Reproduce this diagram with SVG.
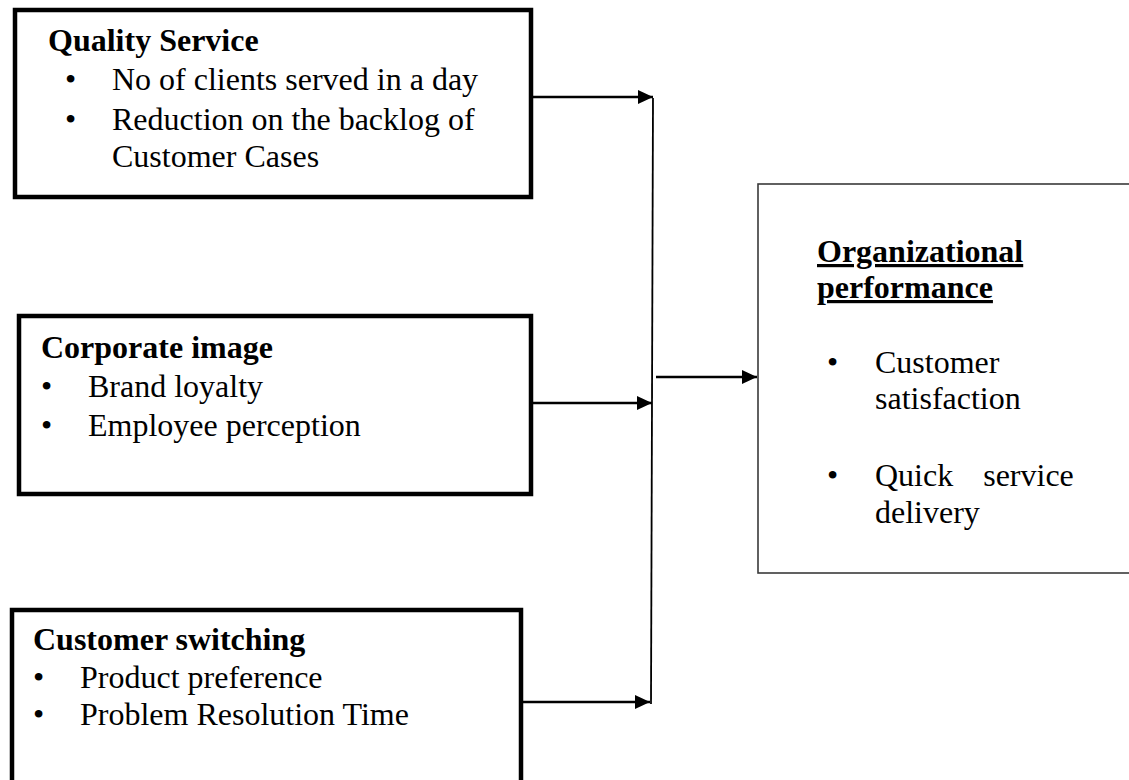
<svg xmlns="http://www.w3.org/2000/svg" width="1129" height="780" viewBox="0 0 1129 780">
  <style>
    .box { fill: #fff; stroke: #000; stroke-width: 4.5; }
    .outcome { fill: #fff; stroke: #3a3a3a; stroke-width: 1.6; }
    .t { font-family: "Liberation Serif", "Times New Roman", serif; font-size: 32px; fill: #000; }
    .b { font-weight: bold; }
    .u { text-decoration: underline; }
    .link { fill: none; stroke: #000; stroke-width: 2.6; }
    .spine { fill: none; stroke: #000; stroke-width: 1.8; }
  </style>
  <defs>
    <marker id="head" markerWidth="16" markerHeight="14" refX="15" refY="7" orient="auto" markerUnits="userSpaceOnUse">
      <path d="M0,0 L15,7 L0,14 Z" fill="#000"/>
    </marker>
  </defs>

  <rect width="1129" height="780" fill="#fff"/>

  <!-- Quality Service -->
  <g id="quality-service">
    <rect class="box" x="15" y="10" width="516" height="187"/>
    <text class="t b" x="48" y="51">Quality Service</text>
    <text class="t" x="65" y="90">•</text>
    <text class="t" x="112" y="90">No of clients served in a day</text>
    <text class="t" x="65" y="130">•</text>
    <text class="t" x="112" y="130">Reduction on the backlog of</text>
    <text class="t" x="112" y="167">Customer Cases</text>
  </g>

  <!-- Corporate image -->
  <g id="corporate-image">
    <rect class="box" x="19" y="316" width="512" height="178"/>
    <text class="t b" x="41" y="358">Corporate image</text>
    <text class="t" x="41" y="397">•</text>
    <text class="t" x="88" y="397">Brand loyalty</text>
    <text class="t" x="41" y="436">•</text>
    <text class="t" x="88" y="436">Employee perception</text>
  </g>

  <!-- Customer switching -->
  <g id="customer-switching">
    <rect class="box" x="12" y="610" width="509" height="200"/>
    <text class="t b" x="33" y="650">Customer switching</text>
    <text class="t" x="33" y="688">•</text>
    <text class="t" x="80" y="688">Product preference</text>
    <text class="t" x="33" y="725">•</text>
    <text class="t" x="80" y="725">Problem Resolution Time</text>
  </g>

  <!-- Organizational performance -->
  <g id="organizational-performance">
    <rect class="outcome" x="758" y="184" width="390" height="389"/>
    <text class="t b u" x="817" y="262">Organizational</text>
    <text class="t b u" x="817" y="298">performance</text>
    <text class="t" x="827" y="373">•</text>
    <text class="t" x="875" y="373">Customer</text>
    <text class="t" x="875" y="409">satisfaction</text>
    <text class="t" x="827" y="486">•</text>
    <text class="t" x="875" y="486" word-spacing="22">Quick service</text>
    <text class="t" x="875" y="523">delivery</text>
  </g>

  <!-- Connectors -->
  <g id="connectors">
    <line class="link" x1="533" y1="97" x2="653" y2="97" marker-end="url(#head)"/>
    <line class="link" x1="533" y1="403" x2="652" y2="403" marker-end="url(#head)"/>
    <line class="link" x1="523" y1="702" x2="650" y2="702" marker-end="url(#head)"/>
    <line class="spine" x1="653" y1="98" x2="651" y2="704"/>
    <line class="link" x1="656" y1="377" x2="757" y2="377" marker-end="url(#head)"/>
  </g>
</svg>
